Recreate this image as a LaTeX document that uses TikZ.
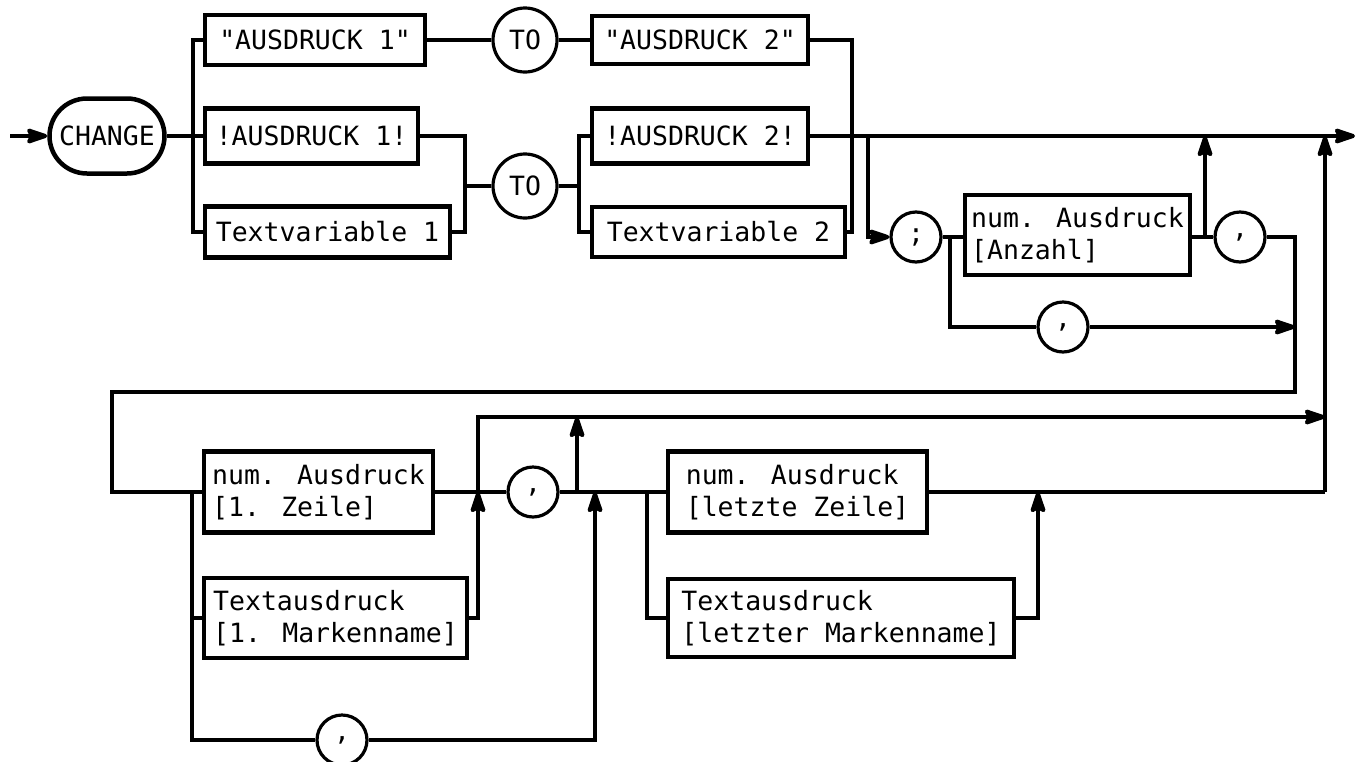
\documentclass[tikz,border=0pt]{standalone}
\usepackage{fontspec}
\newfontfamily\mono[Ligatures=TeXOff]{DejaVu Sans Mono}
\usetikzlibrary{arrows.meta,shapes.misc}
\begin{document}
\begin{tikzpicture}[x=1pt,y=-1pt,
  conn/.style={line width=4pt},
  arr/.style={conn,-{Stealth[length=26pt 0 0,width=17pt 0 0,inset=4pt 0 0,round]}},
  box/.style={draw,line width=4.5pt,inner sep=0pt,align=center,font=\mono\fontsize{26.5}{32}\selectfont},
  tbox/.style={box,align=left},
  circ/.style={draw,circle,line width=3.2pt,inner sep=0pt,minimum size=50pt,font=\mono\fontsize{26.5}{32}\selectfont},
  tocirc/.style={circ,minimum size=64pt},
]
\useasboundingbox (0,0) rectangle (1357,761);

% ---------- nodes ----------
\node[box,rounded rectangle,minimum width=115pt,minimum height=75pt] (change) at (107,136) {CHANGE};
\node[box,minimum width=220pt,minimum height=50pt] (a1) at (315,40) {"AUSDRUCK 1"};
\node[box,minimum width=213pt,minimum height=55pt] (b1) at (311.5,136) {!AUSDRUCK 1!};
\node[box,minimum width=245pt,minimum height=51pt] (c1) at (327.5,232) {Textvariable 1};
\node[tocirc] (to1) at (525,40) {TO};
\node[tocirc] (to2) at (525,186) {TO};
\node[box,minimum width=216pt,minimum height=48pt] (a2) at (700,40) {"AUSDRUCK 2"};
\node[box,minimum width=216pt,minimum height=55pt] (b2) at (700,136) {!AUSDRUCK 2!};
\node[box,minimum width=253pt,minimum height=50pt] (c2) at (718.5,232) {Textvariable 2};

\node[circ] (semi) at (916,237) {;};
\node[tbox,minimum width=225pt,minimum height=80pt] (anz) at (1077.5,235) {num. Ausdruck\\{[}Anzahl]};
\node[circ] (comma1) at (1240,237) {,};
\node[circ] (comma2) at (1063,327) {,};

\node[tbox,minimum width=229pt,minimum height=81pt] (z1) at (318.5,492) {num. Ausdruck\\{[}1. Zeile]};
\node[tbox,minimum width=263pt,minimum height=80pt] (m1) at (335.5,618) {Textausdruck\\{[}1. Markenname]};
\node[circ] (comma3) at (533,492) {,};
\node[circ] (comma4) at (342,740) {,};
\node[tbox,minimum width=259pt,minimum height=81pt] (z2) at (797.5,492) {num. Ausdruck\\{[}letzte Zeile]};
\node[tbox,minimum width=346pt,minimum height=78pt] (m2) at (841,618) {Textausdruck\\{[}letzter Markenname]};

% ---------- coordinates ----------
\coordinate (start) at (10,136);
\coordinate (j1) at (193,136);
\coordinate (jb1) at (465,186);
\coordinate (jt2) at (579,186);
\coordinate (jr) at (852,232);
\coordinate (jm1) at (868,136);
\coordinate (end) at (1355,136);
\coordinate (js) at (950,237);
\coordinate (ju1) at (1205,237);
\coordinate (ut1) at (1205,136);
\coordinate (jc2) at (1295,327);
\coordinate (r1) at (1295,392);
\coordinate (r2) at (112,392);
\coordinate (r3) at (112,492);
\coordinate (jz) at (192,492);
\coordinate (jx) at (478,492);
\coordinate (bypassend) at (1325,417);
\coordinate (jy) at (577,492);
\coordinate (jyt) at (577,417);
\coordinate (jw) at (595,492);
\coordinate (jv) at (647,492);
\coordinate (ju) at (1038,492);
\coordinate (jr2) at (1325,492);
\coordinate (jr2t) at (1325,136);

% ---------- connectors: first row ----------
\draw[arr] (start) -- (change.west);
\draw[conn] (change.east) -- (j1);
\draw[conn] (a1.west) -| (j1) |- (c1.west);
\draw[conn] (j1) -- (b1.west);
\draw[conn] (a1.east) -- (to1.west);
\draw[conn] (to1.east) -- (a2.west);
\draw[conn] (a2.east) -| (jr) -- (c2.east);
\draw[conn] (b1.east) -| (jb1) |- (c1.east);
\draw[conn] (jb1) -- (to2.west);
\draw[conn] (to2.east) -- (jt2);
\draw[conn] (b2.west) -| (jt2) |- (c2.west);
\draw[arr] (b2.east) -- (end);

% ---------- second row ----------
\draw[arr] (jm1) |- (semi.west);
\draw[conn] (semi.east) -- (js) -- (anz.west |- js);
\draw[conn] (js) |- (comma2.west);
\draw[conn] (anz.east |- ju1) -- (ju1) -- (comma1.west);
\draw[arr] (ju1) -- (ut1);
\draw[conn] (comma1.east) -| (r1) -- (r2) -- (r3) -- (z1.west);
\draw[arr] (comma2.east) -- (jc2);

% ---------- third row ----------
\draw[conn] (jz) |- (comma4.west);
\draw[conn] (jz) |- (m1.west);
\draw[conn] (z1.east) -- (jx) -- (comma3.west);
\draw[arr] (m1.east) -| (jx);
\draw[arr] (jx) |- (bypassend);
\draw[conn] (comma3.east) -- (jv) -- (z2.west);
\draw[arr] (jy) -- (jyt);
\draw[arr] (comma4.east) -| (jw);
\draw[conn] (jv) |- (m2.west);
\draw[conn] (z2.east) -- (jr2);
\draw[arr] (jr2) -- (jr2t);
\draw[arr] (m2.east) -| (ju);
\end{tikzpicture}
\end{document}
